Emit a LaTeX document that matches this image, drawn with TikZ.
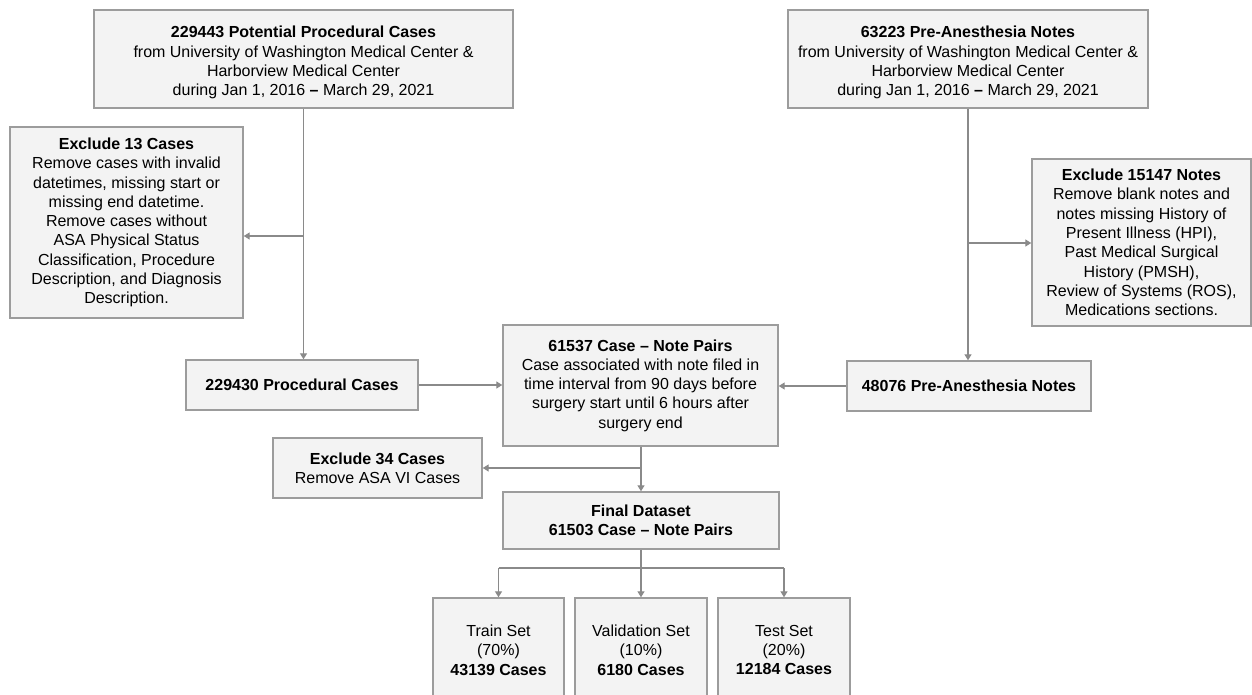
\documentclass[tikz,border=0pt]{standalone}
\usepackage{fontspec}
\setmainfont{Liberation Sans}
\usetikzlibrary{arrows.meta,positioning}
\definecolor{grisfond}{HTML}{F3F3F3}
\definecolor{grisbord}{HTML}{9C9C9C}
\definecolor{grisfleche}{HTML}{8A8A8A}
\tikzset{
	boite/.style={draw=grisbord, fill=grisfond, line width=1.4pt, align=center, inner sep=0pt,
		font=\fontsize{16}{19.3}\selectfont},
	ligne/.style={draw=grisfleche, line width=1.3pt},
	fl/.style={ligne, -{Triangle[width=7pt,length=6pt]}}
}
\newcommand{\hautligne}{\rule{0pt}{19pt}}
\begin{document}
\begin{tikzpicture}[x=1pt,y=-1pt]
	\fill[white] (0,0) rectangle (1252,695);
	\useasboundingbox (0,0) rectangle (1252,695);
	\clip (0,0) rectangle (1252,695);
	% les sources
	\node[boite, minimum width=419pt, minimum height=98pt] (cas) at (303.5,59)
		{\hautligne\textbf{229443 Potential Procedural Cases}\\from University of Washington Medical Center \&\\Harborview Medical Center\\during Jan 1, 2016 \textbf{--} March 29, 2021};
	\node[boite, minimum width=360pt, minimum height=98pt] (notes) at (968,59)
		{\hautligne\textbf{63223 Pre-Anesthesia Notes}\\from University of Washington Medical Center \&\\Harborview Medical Center\\during Jan 1, 2016 \textbf{--} March 29, 2021};
	% les exclusions
	\node[boite, minimum width=233pt, minimum height=191pt] (exclcas) at (126.5,222.5)
		{\textbf{Exclude 13 Cases}\\Remove cases with invalid\\datetimes, missing start or\\missing end datetime.\\Remove cases without\\ASA Physical Status\\Classification, Procedure\\Description, and Diagnosis\\Description.};
	\node[boite, minimum width=219pt, minimum height=167pt] (exclnotes) at (1141.5,242.5)
		{\textbf{Exclude 15147 Notes}\\Remove blank notes and\\notes missing History of\\Present Illness (HPI),\\Past Medical Surgical\\History (PMSH),\\Review of Systems (ROS),\\Medications sections.};
	% les restes
	\node[boite, minimum width=232pt, minimum height=50pt] (proc) at (302,385)
		{\textbf{229430 Procedural Cases}};
	\node[boite, minimum width=244pt, minimum height=50pt] (preanes) at (969,386)
		{\textbf{48076 Pre-Anesthesia Notes}};
	\node[boite, minimum width=275pt, minimum height=121pt] (paires) at (640.5,385.5)
		{\textbf{61537 Case -- Note Pairs}\\Case associated with note filed in\\time interval from 90 days before\\surgery start until 6 hours after\\surgery end};
	\node[boite, minimum width=209pt, minimum height=60pt] (exclasa) at (377.5,468)
		{\textbf{Exclude 34 Cases}\\Remove ASA VI Cases};
	\node[boite, minimum width=276pt, minimum height=57pt] (final) at (641,520.5)
		{\textbf{Final Dataset}\\\textbf{61503 Case -- Note Pairs}};
	% les ensembles
	\node[boite, minimum width=131pt, minimum height=104pt] (train) at (498.5,650)
		{Train Set\\(70\%)\\\textbf{43139 Cases}};
	\node[boite, minimum width=132pt, minimum height=104pt] (valid) at (641,650)
		{Validation Set\\(10\%)\\\textbf{6180 Cases}};
	\node[boite, minimum width=132pt, minimum height=104pt] (test) at (784,650)
		{Test Set\\(20\%)\\\textbf{12184 Cases}};
	% les fleches
	\coordinate (b1) at (303.5,236);
	\coordinate (b2) at (968,243);
	\coordinate (b3) at (641,468);
	\coordinate (b4) at (641,568);
	\draw[fl] (cas.south) -- (cas.south |- proc.north);
	\draw[fl] (b1) -- (exclcas.east |- b1);
	\draw[fl] (notes.south) -- (notes.south |- preanes.north);
	\draw[fl] (b2) -- (exclnotes.west |- b2);
	\draw[fl] (proc.east) -- (paires.west |- proc.east);
	\draw[fl] (preanes.west) -- (paires.east |- preanes.west);
	\draw[fl] (paires.south -| final.north) -- (final.north);
	\draw[fl] (b3) -- (exclasa.east |- b3);
	\draw[fl] (final.south) -- (valid.north);
	\draw[ligne] (train.north |- b4) -- (test.north |- b4);
	\foreach \n in {train,test}
		\draw[fl] (\n.north |- b4) -- (\n.north);
\end{tikzpicture}
\end{document}
